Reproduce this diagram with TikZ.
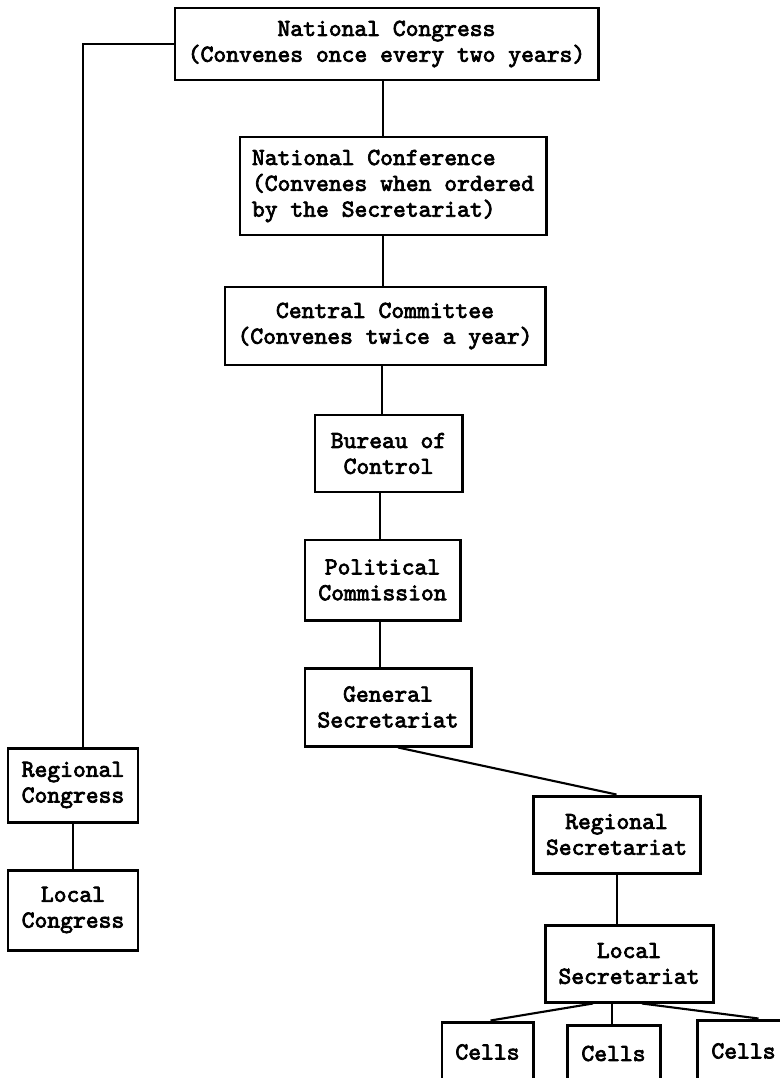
\documentclass[tikz,border=0pt]{standalone}
\usepackage{fontspec}
\newfontfamily\tw{lmmono10-regular.otf}[FakeBold=3]
\usetikzlibrary{calc}
\begin{document}
\begin{tikzpicture}[x=0.02cm,y=-0.02cm,
  box/.style={draw, line width=1.7pt, inner sep=0pt, align=center,
    font=\tw\fontsize{13.9pt}{14.7pt}\selectfont},
  conn/.style={line width=1.2pt}]
\useasboundingbox[fill=white] (0,0) rectangle (780,1078);

\node[box, minimum width=423*0.02cm, minimum height=72*0.02cm] (nc) at (386.5,44)
  {National Congress\\(Convenes once every two years)};
\node[box, align=left, minimum width=306*0.02cm, minimum height=98*0.02cm] (nconf) at (393,186)
  {National Conference\\(Convenes when ordered\\by the Secretariat)};
\node[box, minimum width=320*0.02cm, minimum height=78*0.02cm] (cc) at (385,326)
  {Central Committee\\(Convenes twice a year)};
\node[box, minimum width=147*0.02cm, minimum height=77*0.02cm] (boc) at (388.5,453.5)
  {Bureau of\\Control};
\node[box, minimum width=155*0.02cm, minimum height=80*0.02cm] (pc) at (382.5,580)
  {Political\\Commission};
\node[box, minimum width=166*0.02cm, minimum height=78*0.02cm] (gs) at (388,707)
  {General\\Secretariat};
\node[box, minimum width=167*0.02cm, minimum height=77*0.02cm] (rs) at (616.5,834.5)
  {Regional\\Secretariat};
\node[box, minimum width=168*0.02cm, minimum height=77*0.02cm] (ls) at (629,963.5)
  {Local\\Secretariat};
\node[box, minimum width=91*0.02cm, minimum height=60*0.02cm] (c1) at (487.5,1052) {Cells};
\node[box, minimum width=93*0.02cm, minimum height=57*0.02cm] (c2) at (613.5,1053.5) {Cells};
\node[box, minimum width=93*0.02cm, minimum height=62*0.02cm] (c3) at (743.5,1051) {Cells};
\node[box, minimum width=130*0.02cm, minimum height=74*0.02cm] (rc) at (73,785)
  {Regional\\Congress};
\node[box, minimum width=130*0.02cm, minimum height=80*0.02cm] (lc) at (73,910)
  {Local\\Congress};

\coordinate (k) at (83,44);
\coordinate (v1) at (383,0);
\coordinate (v2) at (382,0);
\coordinate (v3) at (380,0);
\coordinate (v4) at (617,0);
\coordinate (v5) at (612,0);

\draw[conn] (nc.west) -- (k) -- (k |- rc.north);
\draw[conn] (v1 |- nc.south) -- (v1 |- nconf.north);
\draw[conn] (v1 |- nconf.south) -- (v1 |- cc.north);
\draw[conn] (v2 |- cc.south) -- (v2 |- boc.north);
\draw[conn] (v3 |- boc.south) -- (v3 |- pc.north);
\draw[conn] (v3 |- pc.south) -- (v3 |- gs.north);
\draw[conn] ($(gs.south)+(10,0)$) -- (rs.north);
\draw[conn] (v4 |- rs.south) -- (v4 |- ls.north);
\draw[conn] (rc.south) -- (rc.south |- lc.north);
\draw[conn] ($(ls.south)+(-36,0)$) -- ($(c1.north)+(3,0)$);
\draw[conn] (v5 |- ls.south) -- (v5 |- c2.north);
\draw[conn] ($(ls.south)+(13,0)$) -- ($(c3.north)+(15,0)$);
\end{tikzpicture}
\end{document}
